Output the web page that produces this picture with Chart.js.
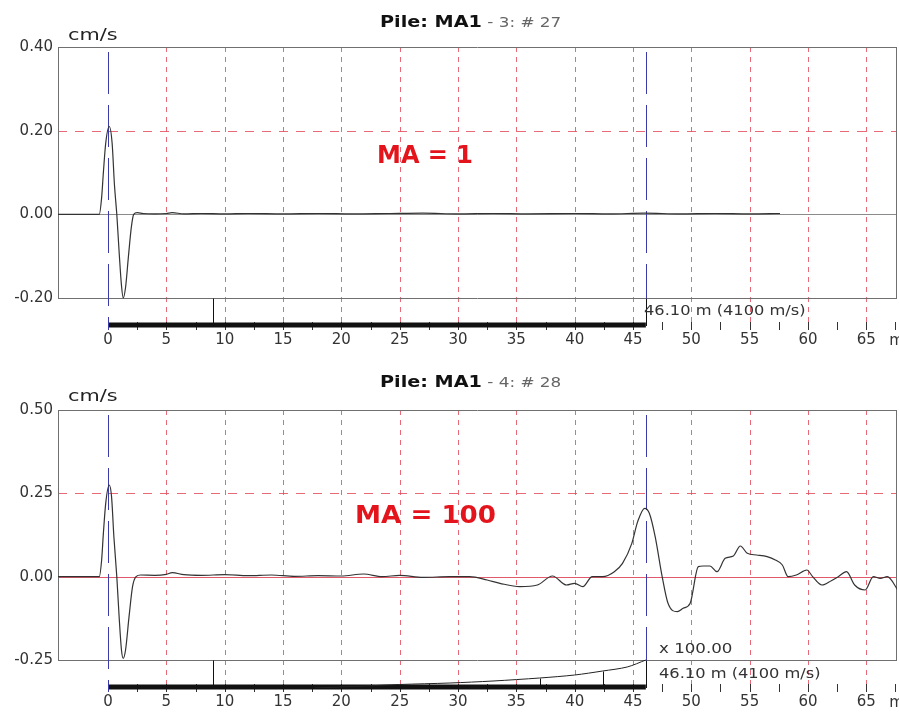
<!DOCTYPE html>
<html>
<head>
<meta charset="utf-8">
<script src="https://cdn.jsdelivr.net/npm/chart.js@4.4.1/dist/chart.umd.min.js"></script>
<style>
  body { margin: 0; background: #fff; width: 899px; height: 715px; overflow: hidden; position: relative; font-family: "DejaVu Sans", sans-serif; }
  .panel { position: absolute; left: 0; width: 899px; }
  .txt { position: absolute; white-space: nowrap; line-height: 1; transform-origin: 0 0; z-index: 2; color: #222; }
  .title b { font-size: 16px; color: #111; }
  .title span { font-size: 14px; color: #666; }
  .ma { color: #e3141c; font-weight: bold; font-size: 24px; }
  .note { font-size: 14px; color: #333; }
</style>
</head>
<body>
<div class="panel" style="top:0;height:357px"><canvas id="topChart" width="899" height="357"></canvas></div>
<div class="panel" style="top:357px;height:358px"><canvas id="bottomChart" width="899" height="358"></canvas></div>

<div class="txt title" style="left:380px;top:14px;transform:scaleX(1.2)"><b>Pile: MA1</b><span> - 3: # 27</span></div>
<div class="txt" style="left:68px;top:27px;font-size:16px;transform:scaleX(1.3)">cm/s</div>
<div class="txt ma" style="left:377px;top:143px">MA = 1</div>
<div class="txt note" style="left:644px;top:303px;transform:scaleX(1.16)">46.10 m (4100 m/s)</div>

<div class="txt title" style="left:380px;top:374px;transform:scaleX(1.2)"><b>Pile: MA1</b><span> - 4: # 28</span></div>
<div class="txt" style="left:68px;top:388px;font-size:16px;transform:scaleX(1.3)">cm/s</div>
<div class="txt ma" style="left:355px;top:503px;transform:scaleX(1.09)">MA = 100</div>
<div class="txt note" style="left:659px;top:641px;transform:scaleX(1.19)">x 100.00</div>
<div class="txt note" style="left:659px;top:666px;transform:scaleX(1.16)">46.10 m (4100 m/s)</div>

<script>
// depth axis (m)
const xTicks = [0, 5, 10, 15, 20, 25, 30, 35, 40, 45, 50, 55, 60, 65];
const topTicksY = [-0.2, 0, 0.2, 0.4];
const bottomTicksY = [-0.25, 0, 0.25, 0.5];

// MA = 1 record (cm/s)
const topDepth = [-4.29, -0.75, -0.55, -0.4, -0.2, 0.1, 0.35, 0.55, 0.75, 0.95, 1.15, 1.3, 1.5, 1.75, 2.0, 2.2, 2.5, 3, 4, 5, 5.5, 6.5, 8, 10, 12, 15, 18, 21, 24, 27, 30, 33, 36, 40, 43, 46, 49, 52, 55, 57.6];
const topVelocity = [0, 0, 0.04, 0.10, 0.17, 0.21, 0.17, 0.07, 0, -0.09, -0.17, -0.2, -0.175, -0.1, -0.03, 0, 0.004, 0.002, 0.001, 0.002, 0.004, 0.001, 0.002, 0.001, 0.002, 0.001, 0.002, 0.001, 0.002, 0.003, 0.001, 0.002, 0.001, 0.002, 0.001, 0.003, 0.001, 0.002, 0.001, 0.002];

// MA = 100 record (cm/s)
const bottomDepth = [-4.29, -0.75, -0.55, -0.4, -0.2, 0.1, 0.3, 0.5, 0.75, 0.95, 1.15, 1.3, 1.5, 1.8, 2.1, 2.4, 2.8, 4, 5, 5.5, 6.5, 8, 10, 12, 14, 16, 18, 20, 21.9, 23.5, 25, 27, 29.3, 31, 32.5, 33.6, 35.3, 36.8, 38.1, 39.3, 40.0, 40.7, 41.5, 42.4, 43.4, 44.1, 44.9, 45.4, 46.0, 46.4, 46.9, 47.5, 48.0, 48.8, 49.3, 49.9, 50.6, 51.0, 51.6, 52.2, 52.9, 53.6, 54.2, 54.8, 55.6, 56.5, 57.2, 57.8, 58.3, 59.0, 59.9, 60.4, 61.2, 62.0, 62.6, 63.3, 64.0, 64.9, 65.6, 66.2, 66.8, 67.7];
const bottomVelocity = [0, 0, 0.05, 0.13, 0.22, 0.275, 0.24, 0.12, 0, -0.12, -0.22, -0.245, -0.22, -0.12, -0.03, 0, 0.005, 0.004, 0.007, 0.012, 0.006, 0.004, 0.006, 0.003, 0.005, 0.001, 0.003, 0.002, 0.008, 0, 0.004, -0.002, 0, 0, -0.01, -0.02, -0.03, -0.025, 0.002, -0.025, -0.02, -0.03, 0, 0, 0.015, 0.04, 0.10, 0.165, 0.205, 0.19, 0.12, 0, -0.08, -0.105, -0.095, -0.08, 0.03, 0.032, 0.032, 0.015, 0.055, 0.062, 0.092, 0.07, 0.065, 0.06, 0.05, 0.035, 0, 0.005, 0.02, 0, -0.025, -0.012, 0, 0.015, -0.025, -0.04, 0, -0.005, 0, -0.04];

// amplification curve below the trace (drawn in velocity units under the -0.25 line)
const ampDepth = [17.7, 22, 25, 29.3, 33, 37, 40, 42.4, 44.5, 46.1];
const ampLevel = [-0.334, -0.328, -0.3235, -0.319, -0.313, -0.304, -0.295, -0.283, -0.271, -0.25];
const ampTickDepth = [37, 42.4];
const ampTickLevel = [-0.304, -0.283];

const toeDepth = 46.1;
const markDepth = 9.0;

function seg(ctx, x1, y1, x2, y2) {
    ctx.beginPath();
    ctx.moveTo(x1, y1);
    ctx.lineTo(x2, y2);
    ctx.stroke();
}

const pileFrame = {
    id: 'pileFrame',
    beforeDatasetsDraw(chart, args, opts) {
        const { ctx, chartArea: a, scales: { x, y } } = chart;
        const px = v => Math.round(x.getPixelForValue(v)) + 0.5;
        const py = v => Math.round(y.getPixelForValue(v)) + 0.5;
        const base = py(opts.baseLevel);
        const ruler = Math.round(a.bottom);
        const gridRed = 'rgba(228,80,98,0.85)';
        ctx.save();

        // dashed depth grid
        ctx.lineWidth = 1;
        ctx.strokeStyle = gridRed;
        ctx.setLineDash([5, 5]);
        xTicks.forEach(v => { if (v !== 0) seg(ctx, px(v), a.top, px(v), ruler); });

        // dashed reference level
        ctx.strokeStyle = gridRed;
        ctx.setLineDash([9, 8]);
        seg(ctx, a.left, py(opts.refLevel), a.right, py(opts.refLevel));

        // zero line
        ctx.setLineDash([]);
        ctx.strokeStyle = opts.zeroColor;
        seg(ctx, a.left, py(0), a.right, py(0));

        // plot frame
        ctx.strokeStyle = '#707070';
        seg(ctx, a.left, a.top + 0.5, a.right, a.top + 0.5);
        seg(ctx, a.left + 0.5, a.top, a.left + 0.5, base);
        seg(ctx, a.right - 0.5, a.top, a.right - 0.5, base);
        seg(ctx, a.left, base, a.right, base);

        // ruler ticks every 2.5 m
        ctx.strokeStyle = '#333';
        for (let d = 0; d <= 67.5; d += 2.5) {
            seg(ctx, px(d), ruler - 4, px(d), ruler + 4);
        }

        // black markers between frame and ruler
        ctx.strokeStyle = '#111';
        seg(ctx, px(markDepth), base, px(markDepth), ruler);
        seg(ctx, px(toeDepth), base, px(toeDepth), ruler);
        (opts.ampTicks || []).forEach(([d, l]) => seg(ctx, px(d), py(l), px(d), ruler));

        // thick length bar
        ctx.lineWidth = 5;
        ctx.lineCap = 'butt';
        seg(ctx, x.getPixelForValue(0), ruler - 1, x.getPixelForValue(toeDepth), ruler - 1);

        // blue toe / top markers
        ctx.lineWidth = 1;
        ctx.strokeStyle = '#3a3aa8';
        ctx.setLineDash([42, 11]);
        ctx.lineDashOffset = 48;
        seg(ctx, px(0), a.top, px(0), ruler + 4);
        seg(ctx, px(toeDepth), a.top, px(toeDepth), base);
        ctx.restore();
    },
    afterDraw(chart) {
        const { ctx, chartArea: a, scales: { x } } = chart;
        ctx.save();
        ctx.font = '15px "DejaVu Sans"';
        ctx.fillStyle = '#333';
        ctx.textBaseline = 'middle';
        ctx.fillText('m', x.getPixelForValue(65) + 23, a.bottom + 15);
        ctx.restore();
    }
};

function makeChart(id, cfg) {
    const points = cfg.depth.map((d, i) => ({ x: d, y: cfg.vel[i] }));
    const datasets = [{
        data: points,
        borderColor: '#333',
        borderWidth: 1.2,
        pointRadius: 0,
        cubicInterpolationMode: 'monotone',
        fill: false
    }];
    if (cfg.amp) {
        datasets.push({
            data: ampDepth.map((d, i) => ({ x: d, y: ampLevel[i] })),
            borderColor: '#222',
            borderWidth: 1,
            pointRadius: 0,
            tension: 0.3,
            fill: false
        });
    }
    const tickFont = { family: 'DejaVu Sans', size: 15 };
    return new Chart(document.getElementById(id), {
        type: 'line',
        data: { datasets },
        options: {
            responsive: false,
            animation: false,
            devicePixelRatio: 1,
            layout: { padding: { top: cfg.top, right: 2, left: 0, bottom: 0 } },
            plugins: {
                legend: { display: false },
                tooltip: { enabled: false },
                pileFrame: {
                    baseLevel: cfg.ticksY[0],
                    refLevel: cfg.ticksY[2],
                    zeroColor: cfg.zeroColor,
                    ampTicks: cfg.amp ? ampTickDepth.map((d, i) => [d, ampTickLevel[i]]) : []
                }
            },
            scales: {
                x: {
                    type: 'linear',
                    min: -4.29,
                    max: 67.63,
                    afterBuildTicks: s => { s.ticks = xTicks.map(v => ({ value: v })); },
                    afterFit: s => { s.height = cfg.xHeight; },
                    grid: { display: false, drawTicks: false },
                    border: { display: false },
                    ticks: { padding: 5, color: '#333', font: tickFont, maxRotation: 0, autoSkip: false }
                },
                y: {
                    type: 'linear',
                    min: cfg.yMin,
                    max: cfg.ticksY[3],
                    afterBuildTicks: s => { s.ticks = cfg.ticksY.map(v => ({ value: v })); },
                    afterFit: s => { s.width = 58; },
                    grid: { display: false, drawTicks: false },
                    border: { display: false },
                    ticks: { padding: 5, color: '#333', font: tickFont, callback: v => v.toFixed(2) }
                }
            }
        },
        plugins: [pileFrame]
    });
}

document.addEventListener('DOMContentLoaded', function() {
    makeChart('topChart', {
        depth: topDepth, vel: topVelocity, ticksY: topTicksY,
        yMin: -0.267, top: 47, xHeight: 31, zeroColor: '#8a8a8a', amp: false
    });
    makeChart('bottomChart', {
        depth: bottomDepth, vel: bottomVelocity, ticksY: bottomTicksY,
        yMin: -0.334, top: 53, xHeight: 27, zeroColor: 'rgba(220,60,80,0.85)', amp: true
    });
});
</script>
</body>
</html>
